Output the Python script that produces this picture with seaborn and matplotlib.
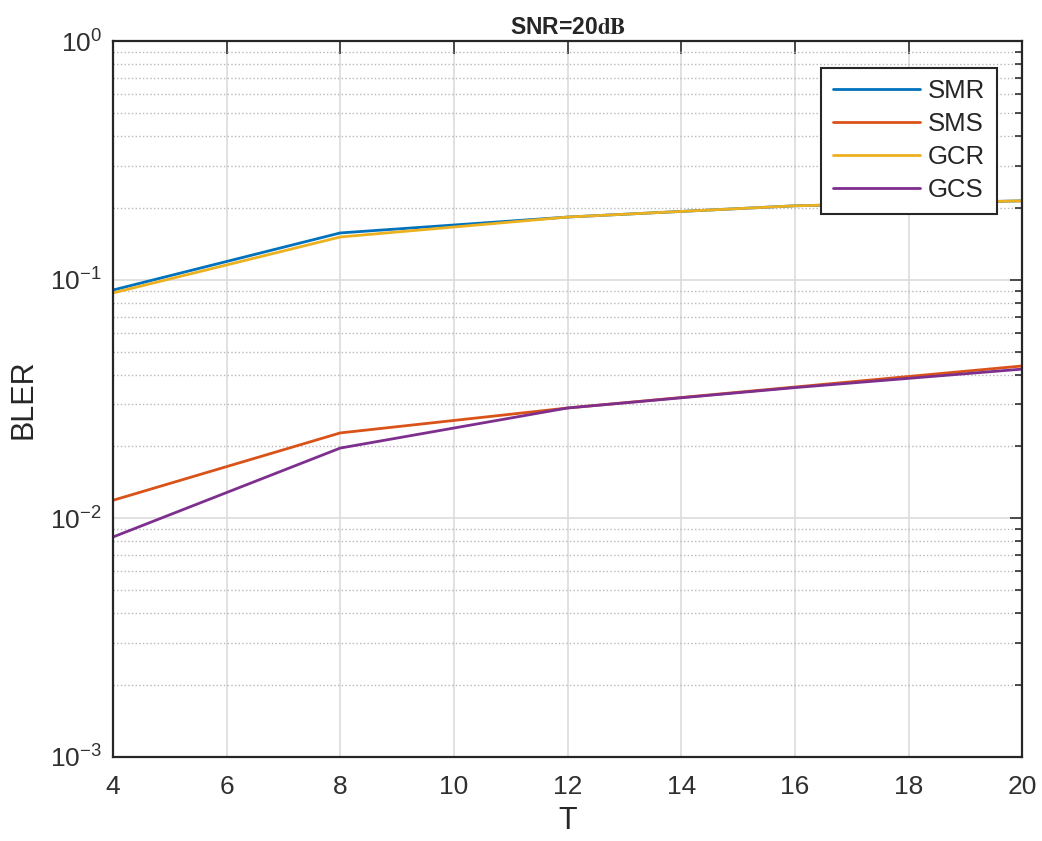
import numpy as np
import pandas as pd
import matplotlib
matplotlib.use("Agg")
import matplotlib.pyplot as plt
import seaborn as sns
from matplotlib.ticker import LogLocator, NullFormatter

# Data
T = [4, 8, 12, 16, 20]
smr = [0.0905, 0.157, 0.183, 0.204, 0.214]
sms = [0.0119, 0.0228, 0.029, 0.0355, 0.0435]
gcr = [0.088, 0.151, 0.183, 0.204, 0.214]
gcs = [0.00835, 0.0197, 0.029, 0.0353, 0.0422]

series = ['SMR', 'SMS', 'GCR', 'GCS']
colors = ['#0072BD', '#D95319', '#EDB120', '#7E2F8E']

df = pd.DataFrame({'T': T * 4,
                   'BLER': smr + sms + gcr + gcs,
                   'method': [s for s in series for _ in T]})

sns.set_style("white")
plt.rcParams['font.family'] = ['Liberation Sans', 'DejaVu Sans']
plt.rcParams['mathtext.fontset'] = 'stix'

fig = plt.figure(figsize=(10.42, 8.41), dpi=100)
ax = fig.add_axes([0.1084, 0.0999, 0.8726, 0.8513])

sns.lineplot(data=df, x='T', y='BLER', hue='method', hue_order=series,
             palette=colors, linewidth=2.0, ax=ax, legend=True)

ax.set_yscale('log')
ax.set_xlim(4, 20)
ax.set_ylim(1e-3, 1e0)
ax.set_xticks(np.arange(4, 21, 2))
ax.yaxis.set_minor_locator(LogLocator(base=10, subs=np.arange(2, 10), numticks=20))
ax.yaxis.set_minor_formatter(NullFormatter())

ax.grid(True, which='major', color='#dcdcdc', linewidth=1.2, linestyle='-')
ax.grid(True, which='minor', axis='y', color='#b8b8b8', linewidth=1.0, linestyle=':')
ax.set_axisbelow(True)

ax.tick_params(which='both', direction='in', top=True, right=True,
               labelsize=19, colors='#303030')
ax.tick_params(which='major', length=9, width=1.2)
ax.tick_params(which='minor', length=5, width=1.2)
ax.tick_params(axis='x', which='major', pad=13)
ax.tick_params(axis='y', which='major', pad=8)
for sp in ax.spines.values():
    sp.set_color('#262626')
    sp.set_linewidth(1.6)

ax.set_xlabel('T', fontsize=22, color='#262626', labelpad=5)
ax.set_ylabel('BLER', fontsize=22, color='#262626', labelpad=8)
ax.set_title(r'SNR=20$\mathbf{dB}$', fontsize=16.5, fontweight='bold', pad=5)

leg = ax.legend(loc='upper right', bbox_to_anchor=(0.972, 0.963), fontsize=18.5,
                frameon=True, fancybox=False, framealpha=1, edgecolor='#262626',
                handlelength=3.4, handletextpad=0.3, borderpad=0.45,
                labelspacing=0.35, borderaxespad=0)
leg.get_frame().set_linewidth(1.5)

fig.savefig('out.png', dpi=100)
